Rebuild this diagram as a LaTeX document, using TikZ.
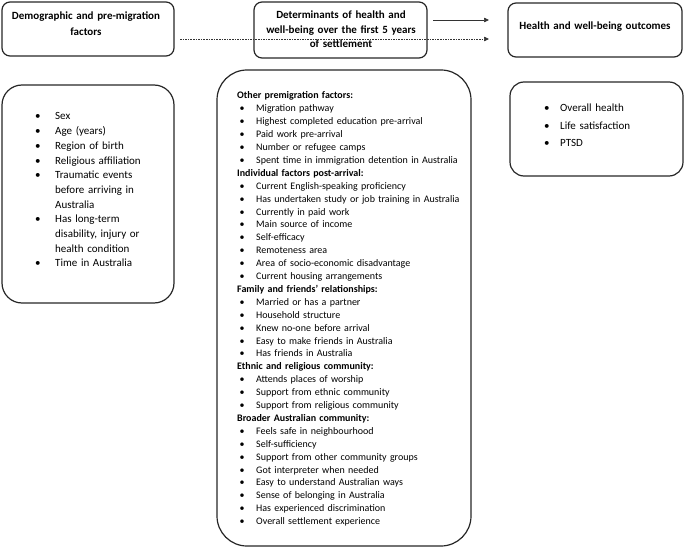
\documentclass[tikz,border=0pt]{standalone}
\usepackage{fontspec}
\setmainfont{Carlito}
\usetikzlibrary{arrows.meta}
\newcommand{\lbul}[1]{\makebox[#1][l]{\textbullet}}
\newcommand{\mbul}{\hspace*{2.5pt}\makebox[16.5pt][l]{\textbullet}}
\begin{document}
\begin{tikzpicture}[x=1pt,y=-1pt,
  box/.style={draw=black!85, line width=1.2pt, inner sep=0pt},
  lab/.style={font=\fontsize{11}{14}\bfseries\selectfont, text width=172pt, align=center, anchor=base, inner sep=0pt},
  lst/.style={anchor=base west, inner sep=0pt, align=left, text width=260pt},
  arr/.style={-{Triangle[length=5pt,width=4.5pt]}, line width=0.7pt, draw=black!80}]
\useasboundingbox (0,0) rectangle (685,548);
% top boxes
\node[box, rounded corners=8pt, minimum width=172pt, minimum height=54pt] (demo) at (88,29) {};
\node[box, rounded corners=8pt, minimum width=173pt, minimum height=56pt] (det) at (340.5,30) {};
\node[box, rounded corners=8pt, minimum width=174pt, minimum height=54pt] (out) at (595,30) {};
\node[lab, font=\fontsize{11}{16.5}\bfseries\selectfont] (demolab) at (86,19.5) {Demographic and pre-migration\\factors};
\node[lab, font=\fontsize{11}{14.5}\bfseries\selectfont] (detlab) at (341,19) {Determinants of health and\\well-being over the first 5 years\\of settlement};
\node[lab] (outlab) at (595,30) {Health and well-being outcomes};
% arrows
\coordinate (a1s) at (433,20);
\coordinate (a1e) at (489,20);
\coordinate (a2s) at (180,39);
\coordinate (a2e) at (489,39);
\draw[arr] (a1s) -- (a1e);
\draw[arr, dash pattern=on 1.6pt off 1pt] (a2s) -- (a2e);
% list boxes
\node[box, rounded corners=20pt, minimum width=172pt, minimum height=218pt] (demolist) at (88,194) {};
\node[box, rounded corners=30pt, minimum width=254pt, minimum height=476pt] (detlist) at (344,308) {};
\node[box, rounded corners=14pt, minimum width=173pt, minimum height=94pt] (outlist) at (596.5,129) {};
% left list
\node[lst, font=\fontsize{11}{14.7}\selectfont] (demotxt) at (35,120) {%
\lbul{20pt}Sex\\
\lbul{20pt}Age (years)\\
\lbul{20pt}Region of birth\\
\lbul{20pt}Religious affiliation\\
\lbul{20pt}Traumatic events\\
\hspace*{20pt}before arriving in\\
\hspace*{20pt}Australia\\
\lbul{20pt}Has long-term\\
\hspace*{20pt}disability, injury or\\
\hspace*{20pt}health condition\\
\lbul{20pt}Time in Australia};
% middle list
\node[lst, font=\fontsize{10}{12.9}\selectfont] (dettxt) at (237,99) {%
\textbf{Other premigration factors:}\\
\mbul Migration pathway\\
\mbul Highest completed education pre-arrival\\
\mbul Paid work pre-arrival\\
\mbul Number or refugee camps\\
\mbul Spent time in immigration detention in Australia\\
\textbf{Individual factors post-arrival:}\\
\mbul Current English-speaking proficiency\\
\mbul Has undertaken study or job training in Australia\\
\mbul Currently in paid work\\
\mbul Main source of income\\
\mbul Self-efficacy\\
\mbul Remoteness area\\
\mbul Area of socio-economic disadvantage\\
\mbul Current housing arrangements\\
\textbf{Family and friends’ relationships:}\\
\mbul Married or has a partner\\
\mbul Household structure\\
\mbul Knew no-one before arrival\\
\mbul Easy to make friends in Australia\\
\mbul Has friends in Australia\\
\textbf{Ethnic and religious community:}\\
\mbul Attends places of worship\\
\mbul Support from ethnic community\\
\mbul Support from religious community\\
\textbf{Broader Australian community:}\\
\mbul Feels safe in neighbourhood\\
\mbul Self-sufficiency\\
\mbul Support from other community groups\\
\mbul Got interpreter when needed\\
\mbul Easy to understand Australian ways\\
\mbul Sense of belonging in Australia\\
\mbul Has experienced discrimination\\
\mbul Overall settlement experience};
% right list
\node[lst, font=\fontsize{11}{17.5}\selectfont] (outtxt) at (544,112) {%
\lbul{16pt}Overall health\\
\lbul{16pt}Life satisfaction\\
\lbul{16pt}PTSD};
\end{tikzpicture}
\end{document}
